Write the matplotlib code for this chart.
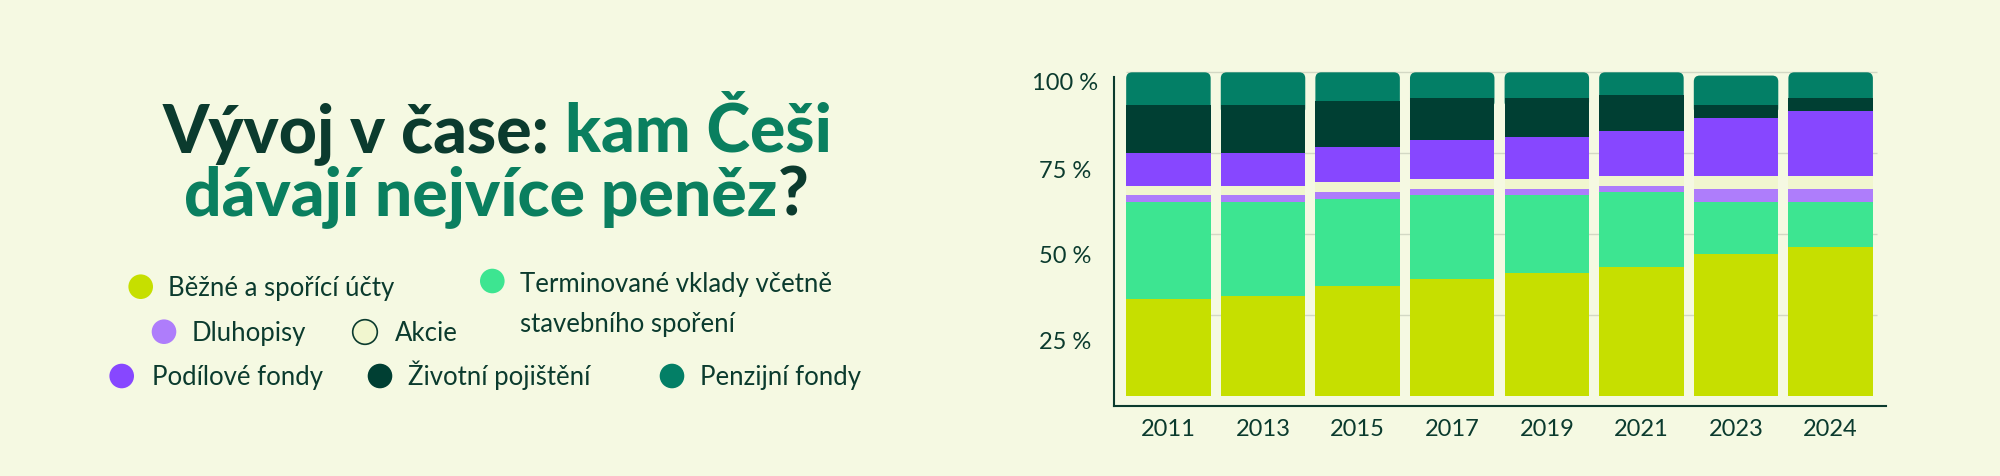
import matplotlib
matplotlib.use("Agg")
import matplotlib.pyplot as plt
from matplotlib.patches import FancyBboxPatch, Circle
import numpy as np

# ---------------- data ----------------
years = ["2011", "2013", "2015", "2017", "2019", "2021", "2023", "2024"]
bezne = [30, 31, 34, 36, 38, 40, 44, 46]
terminovane = [30, 29, 27, 26, 24, 23, 16, 14]
dluhopisy = [2, 2, 2, 2, 2, 2, 4, 4]
akcie = [3, 3, 3, 3, 3, 3, 4, 4]
podilove = [10, 10, 11, 12, 13, 14, 18, 20]
zivotni = [15, 15, 14, 13, 12, 11, 4, 4]
penzijni = [10, 10, 9, 8, 8, 7, 9, 8]

series_names = ["Běžné a spořící účty",
                "Terminované vklady včetně\nstavebního spoření",
                "Dluhopisy", "Akcie", "Podílové fondy",
                "Životní pojištění", "Penzijní fondy"]
grid_values = [25, 50, 75, 100]
ytick_labels = ["100 %", "75 %", "50 %", "25 %"]
ytick_label_pos = [97.1, 70.1, 43.6, 17.2]   # labels sit lower than their gridlines in the original

title_line1 = [("Vývoj v čase:", "dark"), ("kam Češi", "green")]
title_line2 = [("dávají nejvíce peněz", "green"), ("?", "dark")]

# ---------------- style ----------------
BG = "#F5F9E2"
DARK = "#0B3B2E"
GREEN = "#0A7F5F"
colors = ["#C6DF00", "#3DE591", "#AE7DFB", "#F1F6CF", "#8747FF", "#003F33", "#037F66"]
FONT = "Lato"

W, H = 2000, 476
fig = plt.figure(figsize=(W / 100, H / 100), dpi=100, facecolor=BG)

# ---------------- chart axes ----------------
ax_left, ax_right = 1114.3, 1885.7
ax_bottom_px, ax_top_px = 406.0, 59.8
ax = fig.add_axes([ax_left / W, (H - ax_bottom_px) / H,
                   (ax_right - ax_left) / W, (ax_bottom_px - ax_top_px) / H])
ax.set_facecolor(BG)
ax.patch.set_alpha(0)
ax.set_xlim(-0.572, 7.582)
ax.set_ylim(-3.09, 103.87)

x = np.arange(len(years))
bw = 0.893
stack = [bezne, terminovane, dluhopisy, akcie, podilove, zivotni]
bottom = np.zeros(len(years))
for vals, c in zip(stack, colors[:6]):
    ax.bar(x, vals, bottom=bottom, width=bw, color=c, linewidth=0, zorder=3)
    bottom = bottom + np.array(vals)

# top segment with rounded top corners
px_per_x = (ax_right - ax_left) / (7.582 + 0.572)
px_per_y = (ax_bottom_px - ax_top_px) / (103.87 + 3.09)
r_px = 6.0
rx = r_px / px_per_x
ry = r_px / px_per_y
ext = 3.0
for xi, b, v in zip(x, bottom, penzijni):
    p = FancyBboxPatch((xi - bw / 2, b - ext), bw, v + ext,
                       boxstyle=f"round,pad=0,rounding_size={rx}",
                       mutation_aspect=ry / rx, facecolor=colors[6],
                       linewidth=0, zorder=2)
    ax.add_patch(p)

ax.hlines(grid_values, -0.45, 7.49, color="#D3D8C4", lw=1.0, zorder=1)

for s in ["top", "right"]:
    ax.spines[s].set_visible(False)
for s in ["left", "bottom"]:
    ax.spines[s].set_color(DARK)
    ax.spines[s].set_linewidth(1.5)
ax.spines["left"].set_bounds(-3.09, 98.6)

ax.set_xticks(x, years)
ax.set_yticks(ytick_label_pos, ytick_labels)
ax.tick_params(axis="both", length=0, colors=DARK, labelsize=17)
ax.tick_params(axis="x", pad=9.5)
ax.tick_params(axis="y", pad=35.7)
for lab in ax.get_yticklabels():
    lab.set_ha("center")
    lab.set_fontfamily(FONT)
for lab in ax.get_xticklabels():
    lab.set_fontfamily(FONT)

# ---------------- overlay (pixel coordinates) ----------------
ov = fig.add_axes([0, 0, 1, 1])
ov.set_xlim(0, W)
ov.set_ylim(H, 0)
ov.axis("off")
ov.patch.set_alpha(0)

renderer = fig.canvas.get_renderer()


def text_w(s, **kw):
    t = fig.text(0, 0, s, **kw)
    w = t.get_window_extent(renderer).width
    t.remove()
    return w


# title
tkw = dict(family=FONT, weight="black")
base_size = 45
line1_str = " ".join(p for p, _ in title_line1)
w1 = text_w(line1_str, size=base_size, **tkw)
tsize = base_size * 670.0 / w1


def draw_line(pieces, center_x, baseline_y, joiner):
    sp = text_w("x x", size=tsize, **tkw) - text_w("xx", size=tsize, **tkw)
    widths = [text_w(p, size=tsize, **tkw) for p, _ in pieces]
    gaps = sp if joiner else 0.0
    total = sum(widths) + gaps * (len(pieces) - 1)
    cx = center_x - total / 2
    for (p, col), w in zip(pieces, widths):
        ov.text(cx, baseline_y, p, color=DARK if col == "dark" else GREEN,
                size=tsize, ha="left", va="baseline", **tkw)
        cx += w + gaps


draw_line(title_line1, 497, 151.7, True)
draw_line(title_line2, 496, 215, False)

# legend
LSIZE = 18.5
marker_pos = [(140.7, 286.7), (492.3, 281.0), (164.0, 331.7), (365.0, 332.0),
              (121.7, 376.0), (380.0, 376.0), (672.0, 376.0)]
text_pos = [(168.0, 296.0), (520.0, 292.0), (191.7, 341.0), (395.0, 341.0),
            (151.7, 385.0), (408.0, 385.0), (700.0, 385.0)]
for i, (name, c) in enumerate(zip(series_names, colors)):
    mx, my = marker_pos[i]
    edge = DARK if i == 3 else c
    ov.add_patch(Circle((mx, my), 12.3, facecolor=c, edgecolor=edge,
                        linewidth=1.2 if i == 3 else 0))
    tx, ty = text_pos[i]
    for k, line in enumerate(name.split("\n")):
        ov.text(tx, ty + 40 * k, line, color=DARK, size=LSIZE, family=FONT,
                ha="left", va="baseline")

fig.savefig("out.png", dpi=100, facecolor=BG)
